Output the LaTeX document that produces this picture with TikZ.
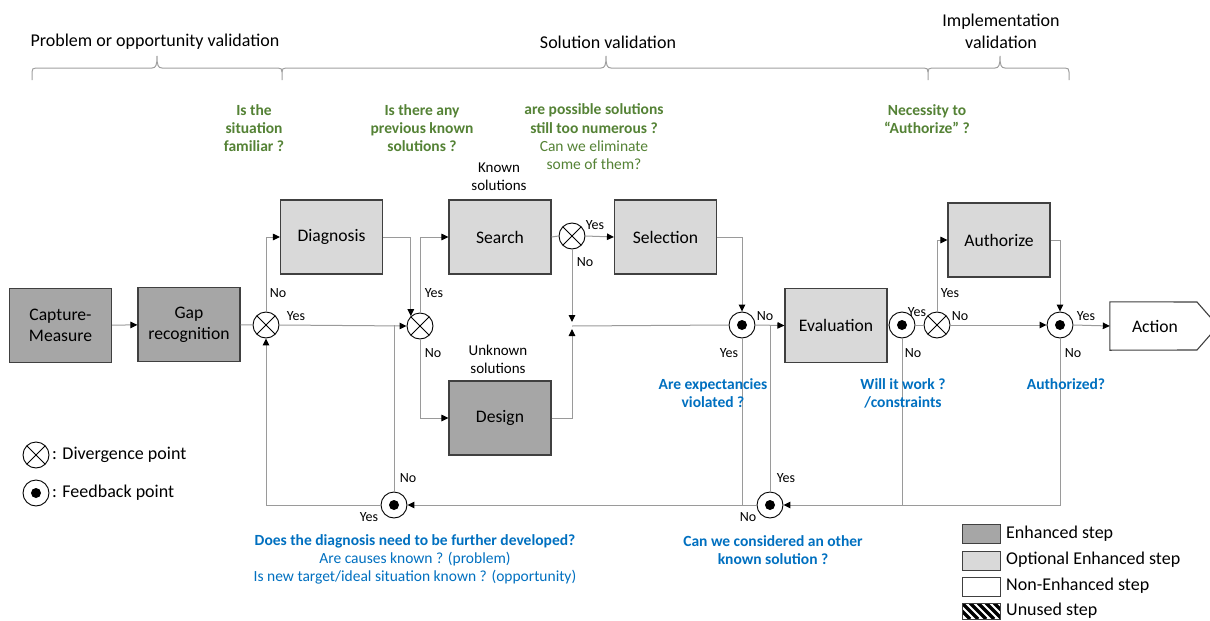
\documentclass[tikz,border=0pt]{standalone}
\usepackage{fontspec}
\setmainfont{Carlito}
\usetikzlibrary{arrows.meta,calc}
\definecolor{enhc}{HTML}{A6A6A6}
\definecolor{optc}{HTML}{D9D9D9}
\definecolor{bordc}{HTML}{404040}
\definecolor{linec}{HTML}{9A9A9A}
\definecolor{qgreen}{HTML}{548235}
\definecolor{qblue}{HTML}{0070C0}
\definecolor{bracec}{HTML}{A0A0A0}
\tikzset{
  stepbox/.style={draw=bordc, line width=1.1pt, minimum width=102pt, minimum height=74pt, inner sep=0pt, align=center, font=\fontsize{17.6}{21}\selectfont},
  enh/.style={stepbox, fill=enhc},
  opt/.style={stepbox, fill=optc},
  conn/.style={draw=linec, line width=1pt},
  arr/.style={conn, -{Triangle[length=7pt,width=6.5pt,color=black]}},
  divp/.style={circle, draw=black, fill=white, line width=0.9pt, minimum size=26pt, inner sep=0pt,
    path picture={\draw[line width=0.9pt] (path picture bounding box.north west) -- (path picture bounding box.south east) (path picture bounding box.north east) -- (path picture bounding box.south west);}},
  fbp/.style={circle, draw=black, fill=white, line width=0.9pt, minimum size=26pt, inner sep=0pt,
    path picture={\fill[black] (path picture bounding box.center) circle[radius=5pt];}},
  yn/.style={font=\fontsize{14}{16}\selectfont, inner sep=0pt},
  title/.style={font=\fontsize{18}{22}\selectfont, align=center, inner sep=0pt},
  gq/.style={font=\fontsize{15.5}{18.3}\selectfont\bfseries, text=qgreen, align=center, inner sep=0pt},
  bq/.style={font=\fontsize{15.5}{18}\selectfont\bfseries, text=qblue, align=center, inner sep=0pt},
  small/.style={font=\fontsize{15}{18}\selectfont, align=center, inner sep=0pt},
  legt/.style={font=\fontsize{18}{20}\selectfont, anchor=west, inner sep=0pt},
  bracel/.style={draw=bracec, line width=1pt},
}
\begin{document}
\begin{tikzpicture}[x=1pt,y=-1pt]
\path[use as bounding box, clip] (0,0) rectangle (1210,621);
\fill[white] (0,0) rectangle (1210,621);

% ---- headers and braces
\node[title] (t1) at (155,42) {Problem or opportunity validation};
\node[title] (t2) at (608,42) {Solution validation};
\node[title] (t3) at (1001,31) {Implementation\\validation};
\draw[bracel] (32,80) -- (32,72) .. controls (32,69) and (33,68) .. (36,68) -- (152,68) .. controls (156,68) and (157,65) .. (157,56) .. controls (157,65) and (158,68) .. (162,68) -- (278,68) .. controls (281,68) and (282,69) .. (282,72) -- (282,80);
\draw[bracel] (282,72) .. controls (282,69) and (283,68) .. (286,68) -- (601,68) .. controls (605,68) and (606,65) .. (606,56) .. controls (606,65) and (607,68) .. (611,68) -- (924,68) .. controls (927,68) and (928,69) .. (928,72) -- (928,80);
\draw[bracel] (928,72) .. controls (928,69) and (929,68) .. (932,68) -- (995,68) .. controls (999,68) and (1000,65) .. (1000,56) .. controls (1000,65) and (1001,68) .. (1005,68) -- (1065,68) .. controls (1068,68) and (1069,69) .. (1069,72) -- (1069,80);

% ---- green questions
\node[gq] (q1) at (254,128) {Is the\\situation\\familiar ?};
\node[gq] (q2) at (422,128) {Is there any\\previous known\\solutions ?};
\node[gq] (q3) at (594,137) {are possible solutions\\still too numerous ?\\\mdseries Can we eliminate\\\mdseries some of them?};
\node[gq] (q4) at (927,119) {Necessity to\\“Authorize” ?};
\node[small] (known) at (499,177) {Known\\solutions};
\node[small] (unknown) at (498,359) {Unknown\\solutions};

% ---- step boxes
\node[enh] (cap) at (60.5,325.5) {Capture-\\Measure};
\node[enh] (gap) at (189,324.5) {Gap\\recognition};
\node[opt] (diag) at (331.5,237) {Diagnosis};
\node[opt] (search) at (500,237) {Search};
\node[opt] (sel) at (665.5,237) {Selection};
\node[enh] (design) at (500,418) {Design};
\node[opt] (eval) at (836,325.5) {Evaluation};
\node[opt] (auth) at (999,240) {Authorize};
\node[minimum width=90pt, minimum height=48pt, inner sep=0pt] (action) at (1155,326) {};
\draw[draw=bordc, line width=1.1pt, fill=white] (action.north west) -- (1197,302) -- (1218,326) -- (1197,350) -- (action.south west) -- cycle;
\node[font=\fontsize{17.6}{21}\selectfont, inner sep=0pt] (actiontxt) at (action.center) {Action};

% ---- points
\node[divp] (d1) at (266,325) {};
\node[divp] (d2) at (420,326) {};
\node[divp] (d3) at (572,236) {};
\node[fbp] (f1) at (742,325) {};
\node[fbp] (f2) at (902,325) {};
\node[divp] (d4) at (937,325) {};
\node[fbp] (f3) at (1060,325) {};
\node[fbp] (f4) at (394,505) {};
\node[fbp] (f5) at (770,505) {};
\coordinate (J) at (572,326);
\coordinate (Jt) at (572,322);
\coordinate (Jb) at (572,329);

% ---- connectors
\draw[arr] (cap) -- (gap);
\draw[conn] (gap) -- (d1);
\draw[arr] (d1.north) |- (diag.west);
\draw[arr] (d1.east) -- (d2.west);
\draw[arr] (diag.east) -| (d2.133);
\draw[conn] (f4.north) -- (f4.north |- d1.east);
\draw[arr] (d2.north) |- (search.west);
\draw[arr] (d2.south) |- (design.west);
\draw[conn] (search.east) -- (d3.west);
\draw[arr] (d3.east) -- (sel.west);
\draw[arr] (d3.south) -- (Jt);
\draw[arr] (design.east) -| (Jb);
\draw[conn] (J) -- (f1.west);
\draw[arr] (sel.east) -| (f1.north);
\draw[arr] (f1.east) -- (eval.west);
\draw[conn] (f1.south) -- (f1.south |- f5.west);
\draw[conn] (f5.north) -- (f5.north |- f1.east);
\draw[arr] (f5.west) -- (f4.east);
\draw[arr] (f4.west) -| (d1.south);
\draw[conn] (eval.east |- f2.west) -- (f2.west);
\draw[conn] (f2.east) -- (d4.west);
\draw[conn] (f2.south) -- (f2.south |- f5.east);
\draw[arr] (d4.north) |- (auth.west);
\draw[arr] (d4.east) -- (f3.west);
\draw[arr] (auth.east) -| (f3.north);
\draw[arr] (f3.east) -- (action.west);
\draw[arr] (f3.south) |- (f5.east);

% ---- yes / no labels
\node[yn] (l1) at (278,293) {No};
\node[yn] (l2) at (296,316) {Yes};
\node[yn] (l3) at (434,293) {Yes};
\node[yn] (l4) at (433,353) {No};
\node[yn] (l5) at (595,225) {Yes};
\node[yn] (l6) at (585,262) {No};
\node[yn] (l7) at (765,316) {No};
\node[yn] (l8) at (729,353) {Yes};
\node[yn] (l9) at (917,312) {Yes};
\node[yn] (l10) at (913,353) {No};
\node[yn] (l11) at (950,293) {Yes};
\node[yn] (l12) at (960,316) {No};
\node[yn] (l13) at (1086,316) {Yes};
\node[yn] (l14) at (1073,353) {No};
\node[yn] (l15) at (408,478) {No};
\node[yn] (l16) at (369,517) {Yes};
\node[yn] (l17) at (786,478) {Yes};
\node[yn] (l18) at (748,517) {No};

% ---- blue questions
\node[bq] (b1) at (713,393) {Are expectancies\\violated ?};
\node[bq] (b2) at (903,393) {Will it work ?\\/constraints};
\node[bq] (b3) at (1066,384) {Authorized?};
\node[bq] (b4) at (415,559) {Does the diagnosis need to be further developed?\\\mdseries Are causes known ? (problem)\\\mdseries Is new target/ideal situation known ? (opportunity)};
\node[bq] (b5) at (773,550) {Can we considered an other\\known solution ?};

% ---- legend left
\node[divp] (ld) at (36,455) {};
\node[legt] (ldt) at (52,455) {: Divergence point};
\node[fbp] (lf) at (36,493) {};
\node[legt] (lft) at (52,493) {: Feedback point};

% ---- legend right
\draw[draw=bordc, line width=1pt, fill=enhc] (962,524) rectangle (1000,543);
\node[legt] (le1) at (1006,534) {Enhanced step};
\draw[draw=bordc, line width=1pt, fill=optc] (962,551) rectangle (1000,570);
\node[legt] (le2) at (1006,560) {Optional Enhanced step};
\draw[draw=bordc, line width=1pt, fill=white] (962,577) rectangle (1000,596);
\node[legt] (le3) at (1006,586) {Non-Enhanced step};
\begin{scope}
\clip (962,603) rectangle (1000,619);
\foreach \i in {-24,-16,...,40} {\draw[line width=3.2pt] (962+\i,603) -- (978+\i,619);}
\end{scope}
\draw[draw=bordc, line width=1pt] (962,603) rectangle (1000,619);
\node[legt] (le4) at (1006,611) {Unused step};
\end{tikzpicture}
\end{document}
